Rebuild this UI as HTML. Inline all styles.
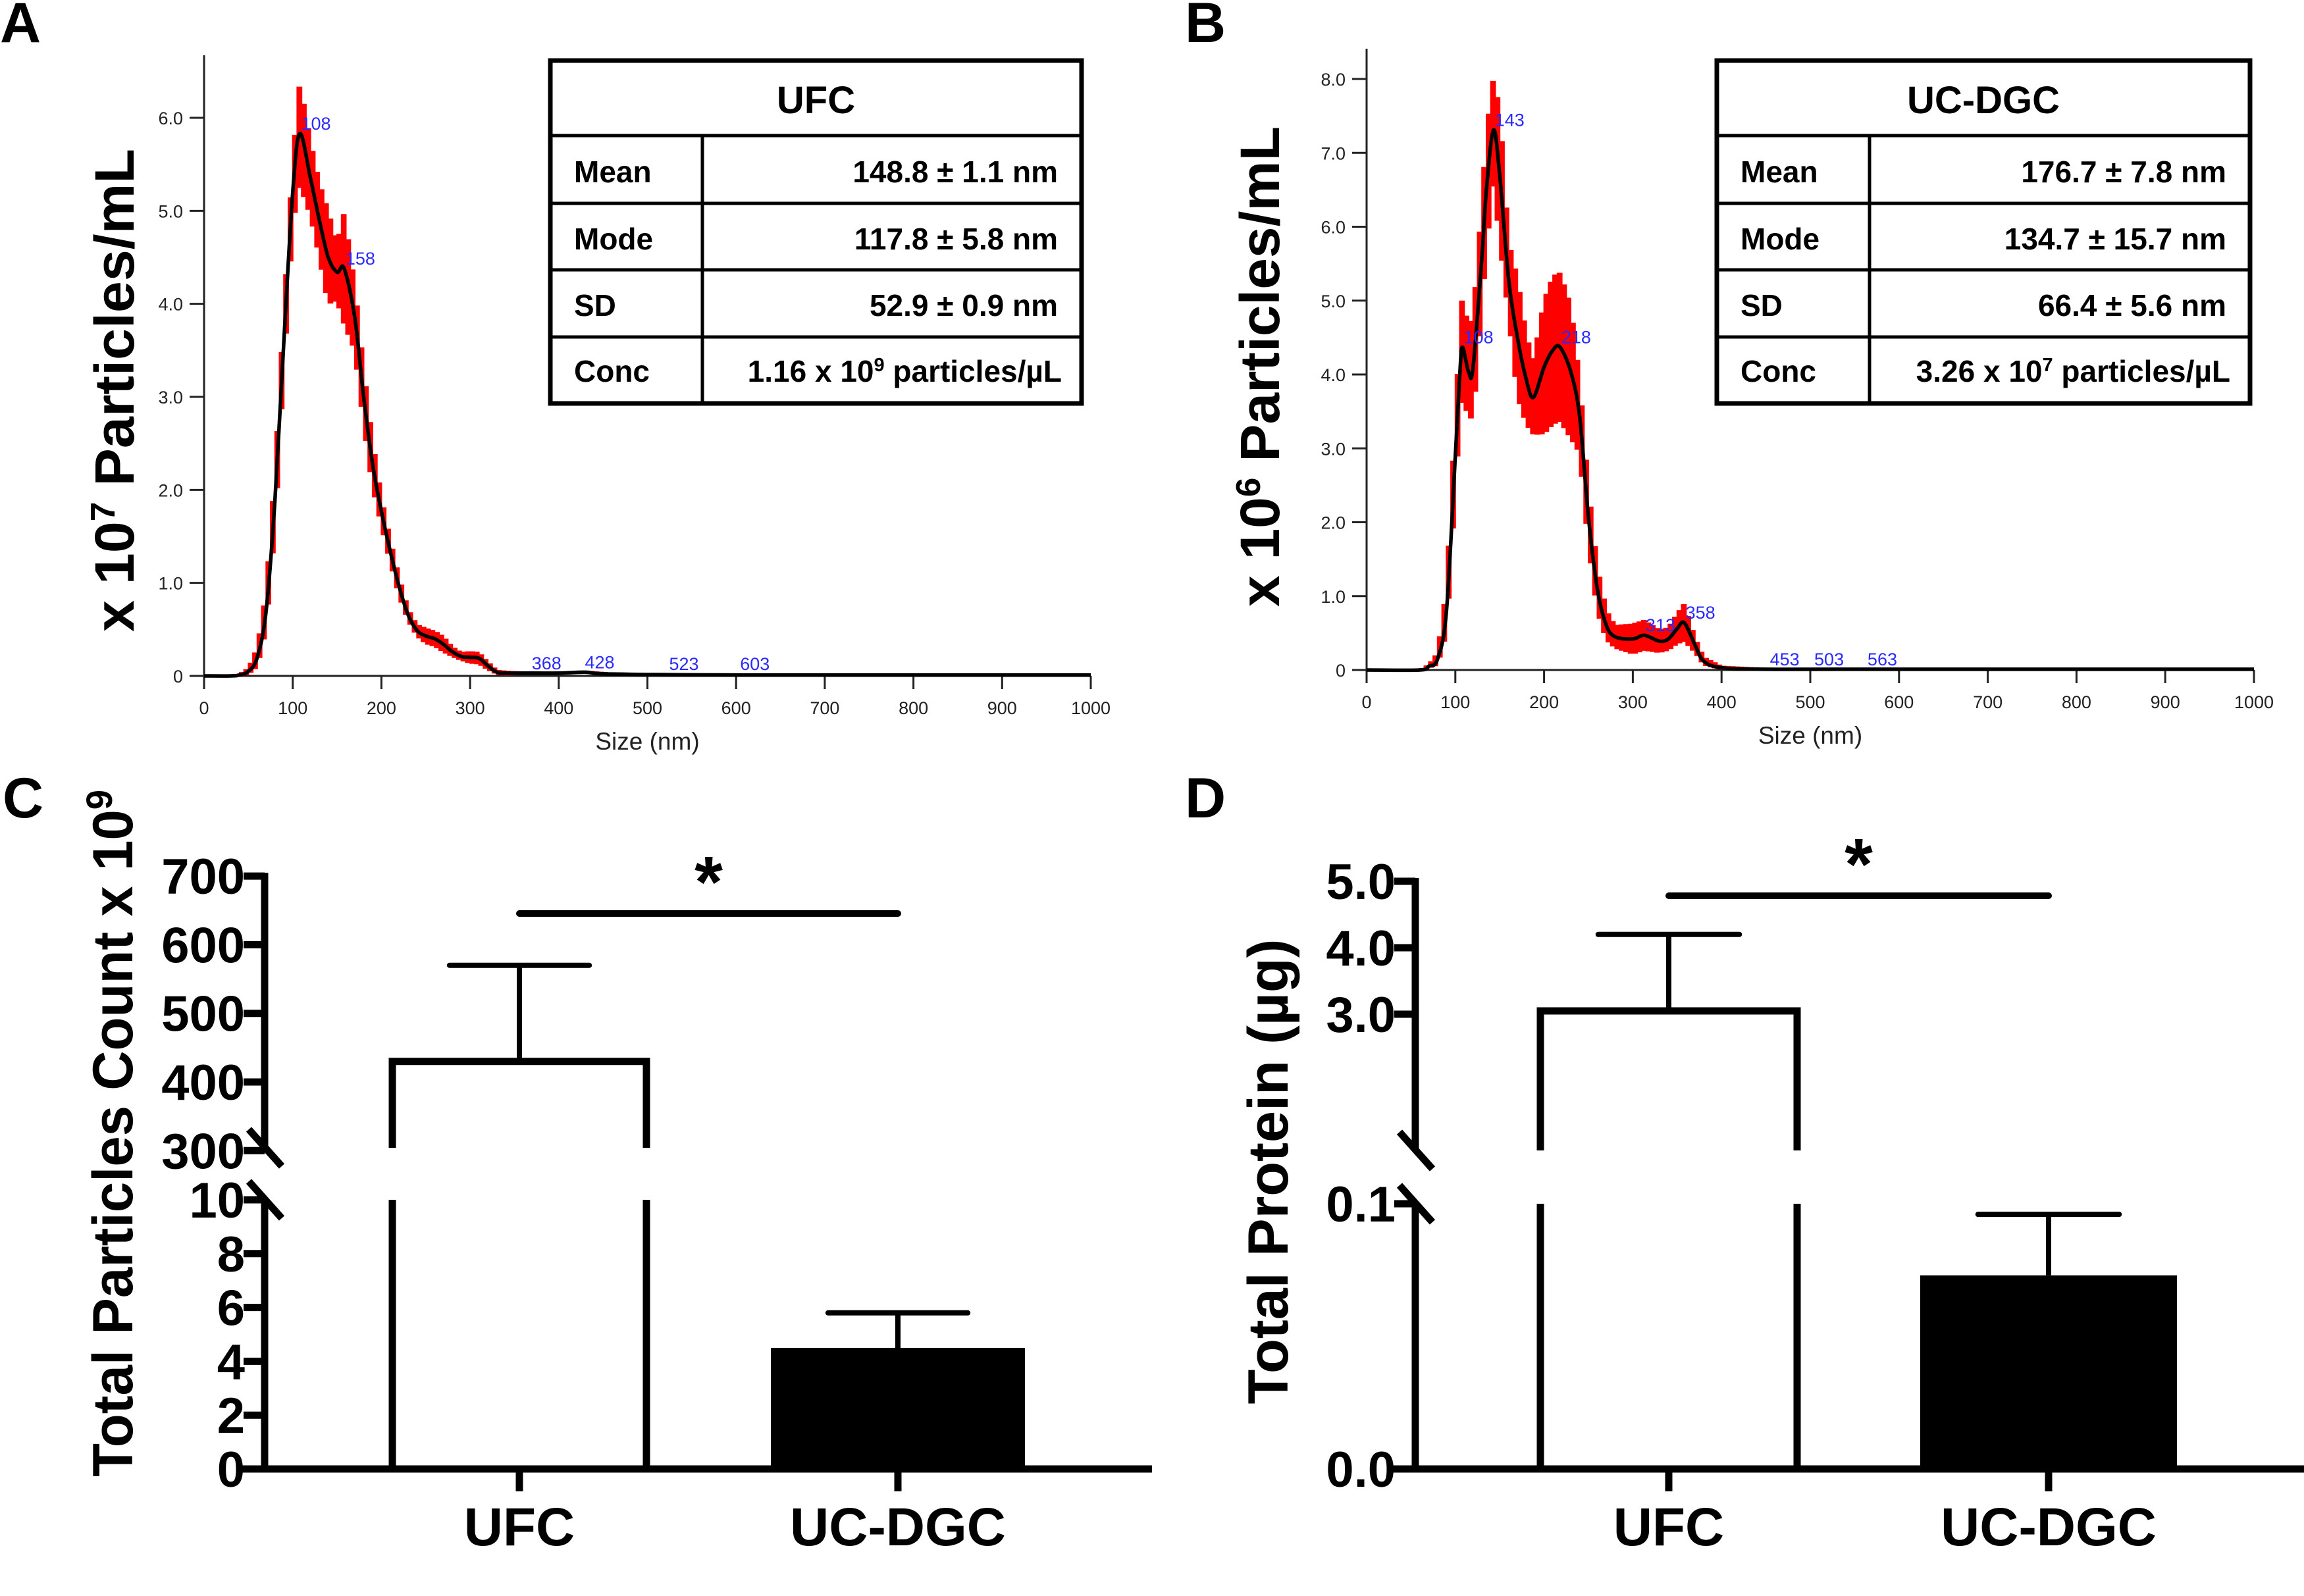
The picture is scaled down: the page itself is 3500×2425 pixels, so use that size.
<!DOCTYPE html>
<html><head><meta charset="utf-8"><style>
html,body{margin:0;padding:0;background:#fff;}
svg{display:block;}
text{font-family:"Liberation Sans",sans-serif;}
</style></head><body>
<svg id="fig" width="3500" height="2425" viewBox="0 0 3500 2425" xmlns="http://www.w3.org/2000/svg">
<rect x="0" y="0" width="3500" height="2425" fill="#fff"/>
<g id="gA"></g>
<g id="gB"></g>
<g id="gC"></g>
<g id="gD"></g>
</svg>
<script>
// ---------- Panel A data (x10^7 particles/mL) ----------
const sizesA = [0,30,40,50,60,70,80,90,100,108,120,130,140,150,158,170,180,190,200,210,220,230,240,250,260,270,280,290,300,310,320,330,340,360,400,430,460,600,1000];
const meanA  = [0,0,0.01,0.05,0.2,0.7,1.9,3.6,5.2,5.83,5.35,4.9,4.5,4.34,4.38,3.85,3.0,2.28,1.77,1.34,0.96,0.66,0.49,0.43,0.4,0.34,0.26,0.21,0.2,0.19,0.11,0.04,0.03,0.03,0.03,0.04,0.02,0.01,0.01];
const errA   = [0,0,0.01,0.03,0.1,0.2,0.3,0.3,0.35,0.55,0.4,0.4,0.5,0.3,0.6,0.35,0.3,0.25,0.15,0.12,0.1,0.06,0.06,0.08,0.08,0.08,0.05,0.04,0.06,0.06,0.04,0.02,0.02,0.01,0.01,0.01,0.01,0,0];
const peaksA = [108,158,368,428,523,603];
const peakYA = [5.83,4.38,0.03,0.04,0.02,0.02];
const yTicksA = [0,1,2,3,4,5,6];
const yTickLabelsA = ["0","1.0","2.0","3.0","4.0","5.0","6.0"];
const xTicks = [0,100,200,300,400,500,600,700,800,900,1000];
const tableRowsA = [["Mean","148.8 ± 1.1 nm"],["Mode","117.8 ± 5.8 nm"],["SD","52.9 ± 0.9 nm"]];
// ---------- Panel B data (x10^6 particles/mL) ----------
const sizesB = [0,60,70,80,90,100,105,108,115,120,130,135,143,150,160,170,180,188,200,210,218,230,240,250,260,270,280,300,313,330,340,350,358,370,380,400,450,600,1000];
const meanB  = [0,0,0.05,0.15,0.8,2.9,4.0,4.37,4.03,4.1,5.6,6.5,7.31,6.7,5.3,4.5,3.93,3.69,4.1,4.33,4.37,4.04,3.44,2.07,1.1,0.61,0.45,0.42,0.47,0.39,0.42,0.56,0.64,0.34,0.12,0.03,0.01,0.01,0.01];
const errB   = [0,0,0.02,0.08,0.3,0.5,0.6,0.7,0.6,0.7,0.7,0.8,0.7,0.9,0.5,0.8,0.6,0.5,0.9,1.0,1.0,0.9,0.5,0.4,0.3,0.2,0.15,0.2,0.2,0.15,0.15,0.2,0.25,0.1,0.05,0.02,0.01,0,0];
const peaksB = [108,143,218,313,358,453,503,563];
const peakYB = [4.37,7.31,4.37,0.47,0.64,0.01,0.01,0.01];
const yTicksB = [0,1,2,3,4,5,6,7,8];
const yTickLabelsB = ["0","1.0","2.0","3.0","4.0","5.0","6.0","7.0","8.0"];
const tableRowsB = [["Mean","176.7 ± 7.8 nm"],["Mode","134.7 ± 15.7 nm"],["SD","66.4 ± 5.6 nm"]];
// ---------- Panel C data ----------
const groups = ["UFC","UC-DGC"];
const countMean = [430, 4.5];
const countErr  = [140, 1.3];
const cTicksUpper = [300,400,500,600,700];
const cTicksLower = [0,2,4,6,8,10];
// ---------- Panel D data ----------
const proteinMean = [3.05, 0.073];
const proteinErr  = [1.15, 0.023];
const dTicksUpper = [3.0,4.0,5.0];
const dTicksLower = [0.0,0.1];

const NS="http://www.w3.org/2000/svg";
function el(parent,tag,attrs,txt){const e=document.createElementNS(NS,tag);for(const k in attrs)e.setAttribute(k,attrs[k]);if(txt!==undefined)e.textContent=txt;parent.appendChild(e);return e;}

function smoothPath(pts){
  let d="M"+pts[0][0]+","+pts[0][1];
  for(let i=0;i<pts.length-1;i++){
    const p0=pts[Math.max(0,i-1)],p1=pts[i],p2=pts[i+1],p3=pts[Math.min(pts.length-1,i+2)];
    const c1x=p1[0]+(p2[0]-p0[0])/6,c1y=p1[1]+(p2[1]-p0[1])/6;
    const c2x=p2[0]-(p3[0]-p1[0])/6,c2y=p2[1]-(p3[1]-p1[1])/6;
    d+=" C"+c1x+","+c1y+" "+c2x+","+c2y+" "+p2[0]+","+p2[1];
  }
  return d;
}
function interp(xs,ys,x){
  if(x<=xs[0])return ys[0];
  for(let i=0;i<xs.length-1;i++){ if(x<=xs[i+1]){const t=(x-xs[i])/(xs[i+1]-xs[i]);return ys[i]+t*(ys[i+1]-ys[i]);} }
  return ys[ys.length-1];
}

function nta(g,cfg){
  const X=v=>cfg.x0+(cfg.x1-cfg.x0)*v/1000;
  const Y=v=>cfg.y0-(cfg.y0-cfg.yTop)*v/cfg.yMax;
  let a=el(g,'line',{x1:cfg.x0,y1:cfg.axTop,x2:cfg.x0,y2:cfg.y0+18,stroke:'#222','stroke-width':3});
  
  
  a=el(g,'line',{x1:cfg.x0,y1:cfg.y0,x2:cfg.x1,y2:cfg.y0,stroke:'#222','stroke-width':3});
  
  
  cfg.yTicks.forEach((v,i)=>{
    const t=el(g,'line',{x1:cfg.x0-22,y1:Y(v),x2:cfg.x0,y2:Y(v),stroke:'#222','stroke-width':3});
    
    
    const l=el(g,'text',{x:cfg.x0-32,y:Y(v)+10,'text-anchor':'end','font-size':27,fill:'#222'},cfg.yLabels[i]);
    
    
  });
  xTicks.forEach(v=>{
    const t=el(g,'line',{x1:X(v),y1:cfg.y0,x2:X(v),y2:cfg.y0+20,stroke:'#222','stroke-width':3});
    
    
    const l=el(g,'text',{x:X(v),y:cfg.y0+58,'text-anchor':'middle','font-size':27,fill:'#222'},String(v));
    
    
  });
  const xt=el(g,'text',{x:(cfg.x0+cfg.x1)/2,y:cfg.y0+112,'text-anchor':'middle','font-size':37,fill:'#222'},'Size (nm)');
  
  
  // error band in 5 nm steps
  const s=cfg.sizes,m=cfg.mean,e=cfg.err;
  let up=[],lo=[];
  for(let b=0;b<700;b+=5){
    const c=b+2.5, mv=interp(s,m,c), ev=interp(s,e,c);
    up.push([X(b),Y(mv+ev)],[X(b+5),Y(mv+ev)]);
    lo.push([X(b),Y(Math.max(0,mv-ev))],[X(b+5),Y(Math.max(0,mv-ev))]);
  }
  const poly=up.concat(lo.reverse()).map(p=>p[0].toFixed(1)+","+p[1].toFixed(1)).join(" ");
  const band=el(g,'polygon',{points:poly,fill:'#ff0000',stroke:'#ff0000','stroke-width':2});
  
  
  const pts=s.map((v,i)=>[X(v),Y(m[i])]);
  const ln=el(g,'path',{d:smoothPath(pts),fill:'none',stroke:'#000','stroke-width':5.5,'stroke-linejoin':'round'});
  
  
  cfg.peaks.forEach((p,i)=>{
    const t=el(g,'text',{x:X(p)+2,y:Y(cfg.peakY[i])-6,'font-size':27,fill:'#2a2aff'},String(p));
    
    
  });
  const yt=el(g,'text',{transform:`translate(${cfg.titleX},${cfg.titleY}) rotate(-90)`,'text-anchor':'middle','font-size':84,'font-weight':'bold',fill:'#000',textLength:cfg.titleLen,lengthAdjust:'spacingAndGlyphs'});
  
  
  el(yt,'tspan',{},'x 10');
  el(yt,'tspan',{'baseline-shift':'super','font-size':52},cfg.exp);
  el(yt,'tspan',{},' Particles/mL');
  const T=cfg.table, tg=el(g,'g',{});
  
  
  const rows=[92,206,309,410,512,613];
  el(tg,'rect',{x:T.l,y:rows[0],width:T.r-T.l,height:rows[5]-rows[0],fill:'#fff',stroke:'#000','stroke-width':7});
  for(let i=1;i<5;i++) el(tg,'line',{x1:T.l,y1:rows[i],x2:T.r,y2:rows[i],stroke:'#000','stroke-width':5});
  el(tg,'line',{x1:T.d,y1:rows[1],x2:T.d,y2:rows[5],stroke:'#000','stroke-width':5});
  const h=el(tg,'text',{x:(T.l+T.r)/2,y:172,'text-anchor':'middle','font-size':58,'font-weight':'bold'},cfg.name);
  
  
  const bl=[277,379,480,580];
  cfg.rows.forEach((r,i)=>{
    const k=el(tg,'text',{x:T.l+36,y:bl[i],'font-size':46,'font-weight':'bold'},r[0]);
    
    
    const v=el(tg,'text',{x:T.r-36,y:bl[i],'text-anchor':'end','font-size':46,'font-weight':'bold'},r[1]);
    
    
  });
  const k=el(tg,'text',{x:T.l+36,y:bl[3],'font-size':46,'font-weight':'bold'},'Conc');
  
  
  const c=el(tg,'text',{x:T.r-30,y:bl[3],'text-anchor':'end','font-size':46,'font-weight':'bold'});
  
  
  el(c,'tspan',{},cfg.concA+' x 10');
  el(c,'tspan',{'baseline-shift':'super','font-size':29},cfg.concE);
  el(c,'tspan',{},' particles/µL');
  const pl=el(g,'text',{x:cfg.labelX,y:64,'font-size':86,'font-weight':'bold'},cfg.label);
  
  
}

nta(document.getElementById('gA'),{x0:310,x1:1657,y0:1027,yTop:179,yMax:6,axTop:84,sizes:sizesA,mean:meanA,err:errA,peaks:peaksA,peakY:peakYA,yTicks:yTicksA,yLabels:yTickLabelsA,titleX:203,titleY:593,titleLen:734,exp:'7',table:{l:836,r:1643,d:1067},name:'UFC',rows:tableRowsA,concA:'1.16',concE:'9',label:'A',labelX:0});
nta(document.getElementById('gB'),{x0:2076,x1:3424,y0:1018,yTop:120,yMax:8,axTop:74,sizes:sizesB,mean:meanB,err:errB,peaks:peaksB,peakY:peakYB,yTicks:yTicksB,yLabels:yTickLabelsB,titleX:1943,titleY:557,titleLen:730,exp:'6',table:{l:2608,r:3418,d:2840},name:'UC-DGC',rows:tableRowsB,concA:'3.26',concE:'7',label:'B',labelX:1800});

function barPanel(g,cfg){
  const U=v=>cfg.uRef-(v-cfg.uV0)*cfg.uK, L=v=>cfg.y0-v*cfg.lK;
  const ax=cfg.ax, W=11;
  let a=el(g,'line',{x1:ax,y1:U(cfg.uTicks[cfg.uTicks.length-1])-5,x2:ax,y2:cfg.breakTop,stroke:'#000','stroke-width':W});
  
  
  a=el(g,'line',{x1:ax,y1:cfg.breakBot,x2:ax,y2:cfg.y0+5,stroke:'#000','stroke-width':W});
  
  
  [[cfg.breakTop-28,cfg.breakTop+28],[cfg.breakBot-28,cfg.breakBot+28]].forEach(b=>{
    const s=el(g,'line',{x1:ax-24,y1:b[0],x2:ax+26,y2:b[1],stroke:'#000','stroke-width':W});
    
    
  });
  a=el(g,'line',{x1:ax-35,y1:cfg.y0,x2:cfg.xEnd,y2:cfg.y0,stroke:'#000','stroke-width':W});
  
  
  const tick=(y,lab)=>{
    const t=el(g,'line',{x1:ax-32,y1:y,x2:ax,y2:y,stroke:'#000','stroke-width':W});
    
    
    const l=el(g,'text',{x:ax-30,y:y+27,'text-anchor':'end','font-size':76,'font-weight':'bold'},lab);
    
    
  };
  cfg.uTicks.forEach(v=>tick(U(v),cfg.fmt(v)));
  cfg.lTicks.forEach(v=>tick(L(v),cfg.fmt(v)));
  groups.forEach((gname,i)=>{
    const cx=cfg.cx[i], hw=cfg.hw, m=cfg.mean[i], e=cfg.err[i];
    const upper=m>cfg.lMax;
    const ytop=upper?U(m):L(m), yerr=upper?U(m+e):L(m+e);
    const t=el(g,'line',{x1:cx,y1:cfg.y0,x2:cx,y2:cfg.y0+34,stroke:'#000','stroke-width':W});
    
    
    const eb=el(g,'line',{x1:cx,y1:ytop,x2:cx,y2:yerr,stroke:'#000','stroke-width':8});
    
    
    const ec=el(g,'line',{x1:cx-hw*0.55,y1:yerr,x2:cx+hw*0.55,y2:yerr,stroke:'#000','stroke-width':8,'stroke-linecap':'round'});
    
    
    if(upper){
      const p=el(g,'path',{d:`M${cx-hw},${cfg.breakTop} V${ytop} H${cx+hw} V${cfg.breakTop} M${cx-hw},${cfg.breakBot} V${cfg.y0} M${cx+hw},${cfg.breakBot} V${cfg.y0}`,fill:'none',stroke:'#000','stroke-width':W});
      
      
    } else {
      const r=el(g,'rect',{x:cx-hw,y:ytop,width:2*hw,height:cfg.y0-ytop,fill:'#000'});
      
      
    }
    const xl=el(g,'text',{x:cx,y:cfg.y0+116,'text-anchor':'middle','font-size':82,'font-weight':'bold'},gname);
    
    
  });
  const sg=el(g,'line',{x1:cfg.cx[0],y1:cfg.sigY,x2:cfg.cx[1],y2:cfg.sigY,stroke:'#000','stroke-width':10,'stroke-linecap':'round'});
  
  
  const st=el(g,'text',{x:(cfg.cx[0]+cfg.cx[1])/2,y:cfg.sigY-10,'text-anchor':'middle','font-size':110,'font-weight':'bold'},'*');
  
  
  const yt=el(g,'text',{transform:`translate(${cfg.titleX},${cfg.titleY}) rotate(-90)`,'text-anchor':'middle','font-size':86,'font-weight':'bold',textLength:cfg.titleLen,lengthAdjust:'spacingAndGlyphs'});
  
  
  el(yt,'tspan',{},cfg.title);
  if(cfg.exp) el(yt,'tspan',{'baseline-shift':'super','font-size':56},cfg.exp);
  const pl=el(g,'text',{x:cfg.labelX,y:1242,'font-size':86,'font-weight':'bold'},cfg.label);
  
  
}

barPanel(document.getElementById('gC'),{ax:402,y0:2232,xEnd:1750,uRef:1644,uV0:400,uK:1.043,lK:40.9,lMax:10,uTicks:cTicksUpper,lTicks:cTicksLower,breakTop:1744,breakBot:1823,cx:[789,1364],hw:193,mean:countMean,err:countErr,sigY:1388,fmt:v=>String(v),title:'Total Particles Count x 10',exp:'9',titleX:201,titleY:1722,titleLen:1044,label:'C',labelX:4});
barPanel(document.getElementById('gD'),{ax:2150,y0:2232,xEnd:3500,uRef:1541,uV0:3,uK:101,lK:4030,lMax:0.1,uTicks:dTicksUpper,lTicks:dTicksLower,breakTop:1748,breakBot:1829,cx:[2535,3112],hw:195,mean:proteinMean,err:proteinErr,sigY:1361,fmt:v=>v.toFixed(1),title:'Total Protein (µg)',exp:'',titleX:1956,titleY:1780,titleLen:707,label:'D',labelX:1800});
</script>
</body></html>
